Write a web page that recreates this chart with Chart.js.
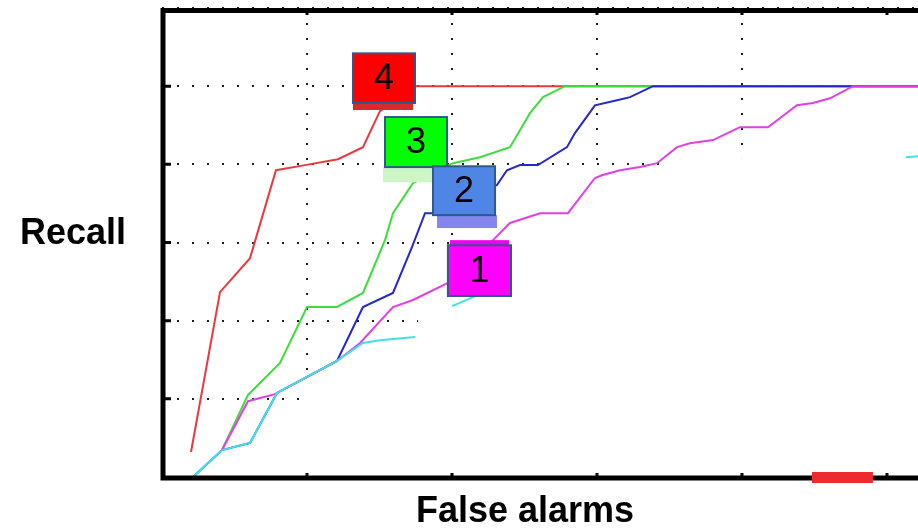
<!DOCTYPE html>
<html>
<head>
<meta charset="utf-8">
<script src="https://cdn.jsdelivr.net/npm/chart.js@4/dist/chart.umd.min.js"></script>
<style>
  html, body { margin: 0; padding: 0; background: #ffffff; }
  canvas { display: block; }
</style>
</head>
<body>
<canvas id="roc" width="918" height="528"></canvas>
<script>
// Recall against false alarms for detectors 1-4 and a baseline curve.
// Each curve is a list of [falseAlarms, recall] points.
const gridStepsX = [0, 1, 2, 3, 4, 5];
const gridStepsY = [0, 0.2, 0.4, 0.6, 0.8, 1.0, 1.2];
const curveLabels = ['1', '2', '3', '4'];

const detector4 = [
  [0.200, 0.064], [0.400, 0.473], [0.607, 0.560], [0.786, 0.785], [0.986, 0.798],
  [1.214, 0.813], [1.386, 0.844], [1.503, 0.936], [1.752, 1.000], [5.214, 1.000]
];
const detector3 = [
  [0.414, 0.069], [0.593, 0.210], [0.814, 0.292], [1.000, 0.435], [1.207, 0.435],
  [1.386, 0.471], [1.538, 0.606], [1.593, 0.675], [1.731, 0.752], [2.007, 0.803],
  [2.193, 0.818], [2.400, 0.844], [2.538, 0.931], [2.628, 0.972], [2.779, 1.000],
  [5.214, 1.000]
];
const detector2 = [
  [0.214, 0.000], [0.414, 0.069], [0.607, 0.087], [0.793, 0.215], [1.207, 0.297],
  [1.386, 0.435], [1.593, 0.471], [1.724, 0.588], [1.814, 0.675], [1.917, 0.675],
  [2.310, 0.747], [2.379, 0.785], [2.469, 0.798], [2.593, 0.798], [2.793, 0.844],
  [2.848, 0.880], [2.986, 0.951], [3.138, 0.964], [3.228, 0.972], [3.386, 1.000],
  [5.214, 1.000]
];
const detector1 = [
  [0.414, 0.069], [0.593, 0.194], [0.779, 0.212], [1.207, 0.297], [1.366, 0.343],
  [1.593, 0.435], [1.731, 0.453], [1.986, 0.499], [2.283, 0.606], [2.400, 0.650],
  [2.607, 0.675], [2.800, 0.675], [2.986, 0.765], [3.034, 0.772], [3.159, 0.785],
  [3.297, 0.793], [3.414, 0.803], [3.552, 0.844], [3.641, 0.854], [3.800, 0.862],
  [3.986, 0.895], [4.179, 0.895], [4.379, 0.951], [4.490, 0.957], [4.607, 0.969],
  [4.766, 1.000], [5.214, 1.000]
];
// Baseline: only the visible stretches are kept, null marks a break.
const baseline = [
  [0.214, 0.000], [0.414, 0.069], [0.607, 0.087], [0.793, 0.215], [1.207, 0.297],
  [1.386, 0.343], [1.503, 0.350], [1.745, 0.358], [1.870, null],
  [2.000, 0.437], [2.193, 0.468], [3.000, null],
  [5.131, 0.818], [5.214, 0.821]
];

const toPoints = rows => rows.map(([x, y]) => ({ x, y }));

// Label tags placed next to each curve (false-alarm / recall units).
const tagBoxes = [
  { text: curveLabels[3], fill: '#ff0000', x0: 1.317, x1: 1.745, y0: 0.957, y1: 1.084,
    band: { fill: '#d52b30', x0: 1.317, x1: 1.731, y0: 0.939, y1: 0.957 } },
  { text: curveLabels[2], fill: '#00ff00', x0: 1.538, x1: 1.966, y0: 0.793, y1: 0.921,
    band: { fill: '#cdf5c6', x0: 1.524, x1: 1.938, y0: 0.754, y1: 0.793 } },
  { text: curveLabels[1], fill: '#4f86e6', x0: 1.869, x1: 2.297, y0: 0.670, y1: 0.795,
    band: { fill: '#8585ef', x0: 1.897, x1: 2.310, y0: 0.637, y1: 0.670 } },
  { text: curveLabels[0], fill: '#ff00ff', x0: 1.972, x1: 2.407, y0: 0.463, y1: 0.593,
    band: { fill: '#f000f0', x0: 1.986, x1: 2.393, y0: 0.591, y1: 0.606 } }
];

// Blank regions of the plot where the dotted grid is not shown.
const blankAreas = [
  { x0: 0.952, y1: 0.258 },
  { x0: 1.766, y1: 0.445 },
  { x0: 2.407, y1: 0.632 },
  { x0: 2.952, y1: 0.780 },
  { x0: 3.490, y1: 0.816 }
];

const FONT = '"Liberation Sans", Arial, Helvetica, sans-serif';

const framePlugin = {
  id: 'frame',
  beforeDatasetsDraw(chart) {
    const { ctx, chartArea: a, scales: { x, y } } = chart;
    ctx.save();
    ctx.fillStyle = '#ffffff';
    blankAreas.forEach(b => {
      const left = x.getPixelForValue(b.x0);
      const top = y.getPixelForValue(b.y1);
      ctx.fillRect(left, top, a.right - left + 2, a.bottom - top + 2);
    });
    ctx.restore();
  },
  afterDatasetsDraw(chart) {
    const { ctx, chartArea: a, scales: { x, y } } = chart;
    ctx.save();
    // axis frame: left, bottom and top edges
    ctx.strokeStyle = '#000000';
    ctx.lineWidth = 5;
    ctx.lineCap = 'butt';
    ctx.beginPath();
    ctx.moveTo(a.left + 1, a.top);
    ctx.lineTo(a.left + 1, a.bottom + 3.5);
    ctx.moveTo(a.left - 1.5, a.bottom + 1);
    ctx.lineTo(a.right, a.bottom + 1);
    ctx.moveTo(a.left - 1.5, a.top + 2.5);
    ctx.lineTo(a.right, a.top + 2.5);
    ctx.stroke();

    // tick marks
    ctx.lineWidth = 3;
    ctx.beginPath();
    gridStepsY.slice(1, -1).forEach(v => {
      const py = y.getPixelForValue(v);
      ctx.moveTo(a.left, py);
      ctx.lineTo(a.left + 9, py);
    });
    gridStepsX.slice(1).forEach(v => {
      const px = x.getPixelForValue(v);
      ctx.moveTo(px, a.bottom);
      ctx.lineTo(px, a.bottom - 4);
      ctx.moveTo(px, a.top + 4);
      ctx.lineTo(px, a.top + 7);
    });
    ctx.stroke();

    // small red mark sitting on the x axis
    ctx.fillStyle = '#ee2a2f';
    const mx0 = x.getPixelForValue(4.483), mx1 = x.getPixelForValue(4.903);
    ctx.fillRect(mx0, a.bottom - 5, mx1 - mx0, 11);

    // label tags
    tagBoxes.forEach(t => {
      const bx0 = x.getPixelForValue(t.band.x0), bx1 = x.getPixelForValue(t.band.x1);
      const by0 = y.getPixelForValue(t.band.y1), by1 = y.getPixelForValue(t.band.y0);
      ctx.fillStyle = t.band.fill;
      ctx.fillRect(bx0, by0, bx1 - bx0, by1 - by0);

      const l = x.getPixelForValue(t.x0), r = x.getPixelForValue(t.x1);
      const tp = y.getPixelForValue(t.y1), bt = y.getPixelForValue(t.y0);
      ctx.fillStyle = t.fill;
      ctx.fillRect(l, tp, r - l, bt - tp);
      ctx.strokeStyle = '#2d5a8a';
      ctx.lineWidth = 2;
      ctx.strokeRect(l, tp, r - l, bt - tp);
      ctx.fillStyle = '#000000';
      ctx.font = '36px ' + FONT;
      ctx.textAlign = 'center';
      ctx.textBaseline = 'middle';
      ctx.fillText(t.text, (l + r) / 2, (tp + bt) / 2 + 1);
    });

    // axis titles
    ctx.fillStyle = '#000000';
    ctx.font = 'bold 36px ' + FONT;
    ctx.textBaseline = 'alphabetic';
    ctx.textAlign = 'left';
    ctx.fillText('Recall', 20, 244);
    ctx.textAlign = 'center';
    ctx.fillText('False alarms', 525, 522);
    ctx.restore();
  }
};

const line = (data, color) => ({
  data: toPoints(data),
  borderColor: color,
  borderWidth: 2,
  pointRadius: 0,
  tension: 0,
  fill: false,
  spanGaps: false
});

new Chart(document.getElementById('roc'), {
  type: 'line',
  data: {
    datasets: [
      // Chart.js paints the first dataset last, so the baseline ends up on top
      line(baseline, '#3ee2e8'),
      line(detector1, '#e23fe2'),
      line(detector2, '#2626cf'),
      line(detector3, '#3fdc3f'),
      line(detector4, '#e8393c')
    ]
  },
  options: {
    responsive: false,
    animation: false,
    devicePixelRatio: 1,
    layout: { padding: { left: 162, top: 8, right: 0, bottom: 51 } },
    plugins: { legend: { display: false }, tooltip: { enabled: false } },
    scales: {
      x: {
        type: 'linear',
        min: 0,
        max: 5.214,
        ticks: { display: false, stepSize: 1 },
        grid: {
          drawTicks: false,
          lineWidth: 2,
          color: c => (c.tick && gridStepsX.includes(c.tick.value)) ? '#1e1e1e' : 'rgba(0,0,0,0)'
        },
        border: { display: false, dash: [2, 13], dashOffset: 0 }
      },
      y: {
        type: 'linear',
        min: 0,
        max: 1.2,
        ticks: { display: false, stepSize: 0.2 },
        grid: { drawTicks: false, lineWidth: 2, color: '#1e1e1e' },
        border: { display: false, dash: [2, 13], dashOffset: 0 }
      }
    }
  },
  plugins: [framePlugin]
});
</script>
</body>
</html>
